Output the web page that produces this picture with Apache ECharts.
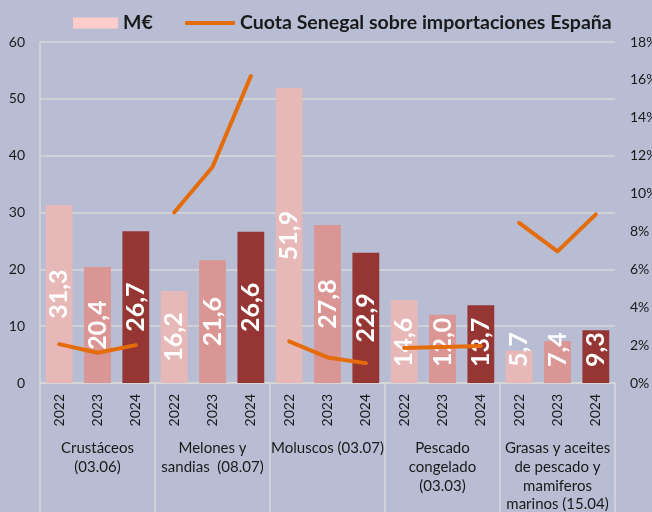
<!DOCTYPE html>
<html><head><meta charset="utf-8">
<script src="https://cdn.jsdelivr.net/npm/echarts@6/dist/echarts.min.js"></script>
<style>html,body{margin:0;padding:0;background:#B8BDD4}#c{width:652px;height:512px}</style>
</head><body><div id="c"></div>
<script>
const groups = ['Crustáceos\n(03.06)', 'Melones y\nsandias  (08.07)', 'Moluscos (03.07)', 'Pescado\ncongelado\n(03.03)', 'Grasas y aceites\nde pescado y\nmamiferos\nmarinos (15.04)'];
const years = ['2022', '2023', '2024'];
const valuesME = [31.3, 20.4, 26.7, 16.2, 21.6, 26.6, 51.9, 27.8, 22.9, 14.6, 12.0, 13.7, 5.7, 7.4, 9.3];
const shareSenegal = [2.05, 1.6, 2.0, 9.0, 11.4, 16.2, 2.2, 1.35, 1.05, 1.85, 1.9, 1.95, 8.45, 6.95, 8.9];
const leftTicks = [0, 60, 10];
const rightTicks = [0, 18, 2];

const barColors = ['#E6B8B7', '#DA9694', '#963634'];
const lineColor = '#E46C0A';
const font = 'Lato, "Open Sans", sans-serif';
const textColor = '#1a1a1a';
const gridColor = '#D9D9D9';

const yearCats = [];
groups.forEach(() => years.forEach(y => yearCats.push(y)));

const barData = valuesME.map((v, i) => ({
  value: v,
  itemStyle: { color: barColors[i % 3] },
  label: v < 15 ? { position: 'insideBottom', distance: 16, align: 'left', verticalAlign: 'middle' } : {}
}));

const lineName = 'Cuota Senegal sobre importaciones España';
const lineSeries = groups.map((g, gi) => ({
  type: 'line', name: lineName, xAxisIndex: 0, yAxisIndex: 1,
  symbol: 'none', showSymbol: false, lineStyle: { width: 4, color: lineColor, cap: 'round', join: 'round' },
  itemStyle: { color: lineColor },
  data: shareSenegal.map((v, i) => Math.floor(i / 3) === gi ? v : '-'),
  z: 5
}));

const legendText = { fontFamily: font, fontSize: 19.5, fontWeight: 'bold', color: textColor };

const chart = echarts.init(document.getElementById('c'));
chart.setOption({
  backgroundColor: '#B8BDD4',
  animation: false,
  textStyle: { fontFamily: font },
  legend: [
    {
      left: 68, top: 8, itemWidth: 45, itemHeight: 11,
      textStyle: legendText,
      data: [{ name: 'M€', icon: 'rect', itemStyle: { color: '#FFCCCC' } }]
    },
    {
      left: 180, top: 8, itemWidth: 50, itemHeight: 4,
      textStyle: legendText,
      data: [{ name: lineName, icon: 'roundRect', itemStyle: { color: lineColor } }]
    }
  ],
  grid: { left: 40, right: 37, top: 42, bottom: 129, outerBoundsMode: 'none', containLabel: false },
  xAxis: [
    {
      type: 'category', data: yearCats, gridIndex: 0, position: 'bottom',
      axisLine: { show: true, lineStyle: { color: gridColor, width: 1.5 } },
      axisTick: { show: false },
      axisLabel: { interval: 0, rotate: 90, margin: 11, fontSize: 14, color: textColor, fontFamily: font }
    },
    {
      type: 'category', data: groups, gridIndex: 0, position: 'bottom',
      axisLine: { show: false },
      axisTick: { show: true, length: 130, lineStyle: { color: gridColor, width: 1.5 } },
      axisLabel: { interval: 0, margin: 56, fontSize: 15, lineHeight: 18.7, color: textColor, fontFamily: font, verticalAlign: 'top' }
    }
  ],
  yAxis: [
    {
      type: 'value', min: leftTicks[0], max: leftTicks[1], interval: leftTicks[2],
      axisLine: { show: true, lineStyle: { color: gridColor, width: 1.5 } },
      axisTick: { show: false },
      splitLine: { show: true, lineStyle: { color: gridColor, width: 1.5 } },
      axisLabel: { margin: 15, fontSize: 14, color: textColor, fontFamily: font }
    },
    {
      type: 'value', min: rightTicks[0], max: rightTicks[1], interval: rightTicks[2],
      axisLine: { show: false }, axisTick: { show: false }, splitLine: { show: false },
      axisLabel: { margin: 15, fontSize: 14, color: textColor, fontFamily: font, formatter: '{value}%' }
    }
  ],
  series: [
    {
      type: 'bar', name: 'M€', xAxisIndex: 0, yAxisIndex: 0, barWidth: '70%',
      data: barData,
      label: {
        show: true, position: 'inside', rotate: 90, color: '#fff', fontSize: 25, fontWeight: 'bold', fontFamily: font,
        formatter: p => p.value.toFixed(1).replace('.', ',')
      }
    },
    ...lineSeries
  ]
});
</script></body></html>
